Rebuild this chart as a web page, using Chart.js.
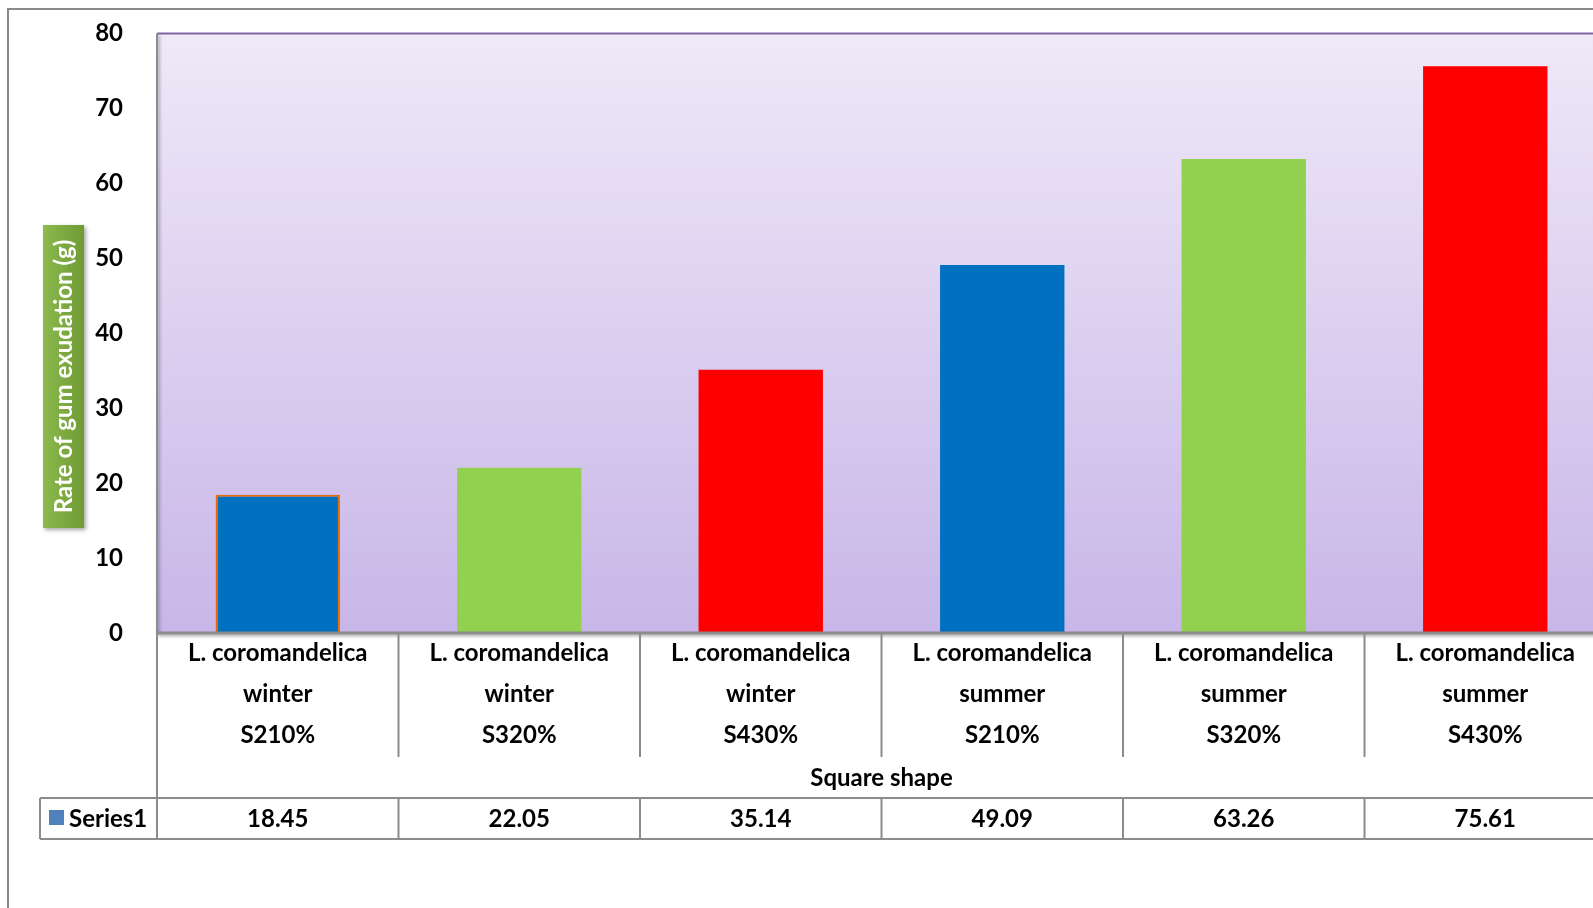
<!DOCTYPE html>
<html>
<head>
<meta charset="utf-8">
<script src="https://cdn.jsdelivr.net/npm/chart.js@4/dist/chart.umd.min.js"></script>
<style>
  html, body { margin: 0; padding: 0; overflow: hidden; background: #fff; }
  #wrap { position: relative; width: 1612px; height: 908px; }
</style>
</head>
<body>
<div id="wrap"><canvas id="gum"></canvas></div>
<script>
// data
var species = ["L. coromandelica", "L. coromandelica", "L. coromandelica", "L. coromandelica", "L. coromandelica", "L. coromandelica"];
var seasons = ["winter", "winter", "winter", "summer", "summer", "summer"];
var treatments = ["S210%", "S320%", "S430%", "S210%", "S320%", "S430%"];
var gumRate = [18.45, 22.05, 35.14, 49.09, 63.26, 75.61];
var groupLabel = "Square shape";
var seriesName = "Series1";
var yTitle = "Rate of gum exudation (g)";

var barColors = ["#0070C0", "#92D050", "#FF0000", "#0070C0", "#92D050", "#FF0000"];
var barBorders = ["#E46C0A", "rgba(0,0,0,0)", "rgba(0,0,0,0)", "rgba(0,0,0,0)", "rgba(0,0,0,0)", "rgba(0,0,0,0)"];
var barBorderWidths = [2, 0, 0, 0, 0, 0];

var labels = species.map(function (s, i) { return [s, seasons[i], treatments[i]]; });

var FONT = "Lato, 'Open Sans', sans-serif";
var LINE = "#8C8C8C";

var decor = {
    id: "decor",
    beforeDraw: function (chart) {
        var ctx = chart.ctx;
        var a = chart.chartArea;
        ctx.save();
        ctx.fillStyle = "#fff";
        ctx.fillRect(0, 0, chart.width, chart.height);
        // outer frame
        ctx.strokeStyle = "#8A8A8A";
        ctx.lineWidth = 2;
        ctx.strokeRect(8, 9, chart.width + 20, chart.height + 20);
        // plot area gradient
        var g = ctx.createLinearGradient(0, a.top, 0, a.bottom);
        g.addColorStop(0, "#EFE9F8");
        g.addColorStop(1, "#C8B6E8");
        ctx.fillStyle = g;
        ctx.fillRect(a.left, a.top, a.right - a.left, a.bottom - a.top);
        // y axis title box
        var bx = 43, by = 225, bw = 41, bh = 303;
        ctx.save();
        ctx.shadowColor = "rgba(0,0,0,0.35)";
        ctx.shadowBlur = 4;
        ctx.shadowOffsetX = 2;
        ctx.shadowOffsetY = 2;
        var gg = ctx.createLinearGradient(bx, 0, bx + bw, 0);
        gg.addColorStop(0, "#8CBA4E");
        gg.addColorStop(1, "#6E9B34");
        ctx.fillStyle = gg;
        ctx.fillRect(bx, by, bw, bh);
        ctx.restore();
        ctx.translate(bx + bw / 2 + 1, by + bh / 2);
        ctx.rotate(-Math.PI / 2);
        ctx.fillStyle = "#fff";
        ctx.font = "bold 24px " + FONT;
        ctx.textAlign = "center";
        ctx.textBaseline = "middle";
        ctx.fillText(yTitle, 0, 0);
        ctx.restore();
    },
    afterDraw: function (chart) {
        var ctx = chart.ctx;
        var a = chart.chartArea;
        var xs = chart.scales.x;
        var n = gumRate.length;
        var cw = (a.right - a.left) / n;
        var rowTop = 798, rowBot = 839;
        ctx.save();
        // plot top border
        ctx.strokeStyle = "#8064A2";
        ctx.lineWidth = 2;
        ctx.beginPath();
        ctx.moveTo(a.left, a.top);
        ctx.lineTo(a.right, a.top);
        ctx.stroke();
        // left border of plot & bottom axis
        ctx.save();
        ctx.shadowColor = "rgba(0,0,0,0.3)";
        ctx.shadowBlur = 3;
        ctx.shadowOffsetX = 2;
        ctx.shadowOffsetY = 2;
        ctx.strokeStyle = LINE;
        ctx.lineWidth = 2;
        ctx.beginPath();
        ctx.moveTo(a.left, a.top);
        ctx.lineTo(a.left, a.bottom);
        ctx.stroke();
        ctx.lineWidth = 3;
        ctx.beginPath();
        ctx.moveTo(a.left, a.bottom);
        ctx.lineTo(chart.width, a.bottom);
        ctx.stroke();
        ctx.restore();

        // data table grid
        ctx.strokeStyle = LINE;
        ctx.lineWidth = 2;
        ctx.beginPath();
        ctx.moveTo(a.left, a.bottom);
        ctx.lineTo(a.left, rowBot);
        for (var i = 1; i < n; i++) {
            var bx = a.left + i * cw;
            ctx.moveTo(bx, a.bottom);
            ctx.lineTo(bx, 757);
            ctx.moveTo(bx, rowTop);
            ctx.lineTo(bx, rowBot);
        }
        ctx.moveTo(40, rowTop);
        ctx.lineTo(40, rowBot);
        ctx.moveTo(40, rowTop);
        ctx.lineTo(chart.width, rowTop);
        ctx.moveTo(40, rowBot);
        ctx.lineTo(chart.width, rowBot);
        ctx.stroke();

        ctx.fillStyle = "#000";
        ctx.font = "bold 24px " + FONT;
        ctx.textAlign = "center";
        ctx.textBaseline = "middle";
        ctx.fillText(groupLabel, (a.left + a.right) / 2, 778);
        for (var j = 0; j < n; j++) {
            ctx.fillText(gumRate[j].toFixed(2), xs.getPixelForValue(j), (rowTop + rowBot) / 2 + 1);
        }
        // legend key
        ctx.fillStyle = "#4F81BD";
        ctx.fillRect(49, 810, 15, 15);
        ctx.fillStyle = "#000";
        ctx.textAlign = "left";
        ctx.fillText(seriesName, 69, (rowTop + rowBot) / 2 + 1);
        ctx.restore();
    }
};

new Chart(document.getElementById("gum"), {
    type: "bar",
    data: {
        labels: labels,
        datasets: [{
            label: seriesName,
            data: gumRate,
            backgroundColor: barColors,
            borderColor: barBorders,
            borderWidth: barBorderWidths,
            borderSkipped: "bottom",
            barPercentage: 0.515,
            categoryPercentage: 1.0,
        }],
    },
    options: {
        responsive: true,
        maintainAspectRatio: false,
        animation: false,
        layout: { padding: { top: 10, right: 6, bottom: 0, left: 0 } },
        plugins: {
            legend: { display: false },
            tooltip: { enabled: false },
        },
        scales: {
            x: {
                grid: { display: false },
                border: { display: false },
                ticks: {
                    color: "#000",
                    font: { family: FONT, size: 24, weight: "bold", lineHeight: "41px" },
                    padding: -8,
                    maxRotation: 0,
                    autoSkip: false,
                },
                afterFit: function (s) { s.height = 275; },
            },
            y: {
                min: 0,
                max: 80,
                grid: { display: false },
                border: { display: false },
                ticks: {
                    stepSize: 10,
                    color: "#000",
                    padding: 26,
                    // small line height keeps the top padding of the axis at ~33px
                    font: { family: FONT, size: 24, weight: "bold", lineHeight: 0.62 },
                },
                afterFit: function (s) { s.width = 157; },
            },
        },
    },
    plugins: [decor],
});
</script>
</body>
</html>
